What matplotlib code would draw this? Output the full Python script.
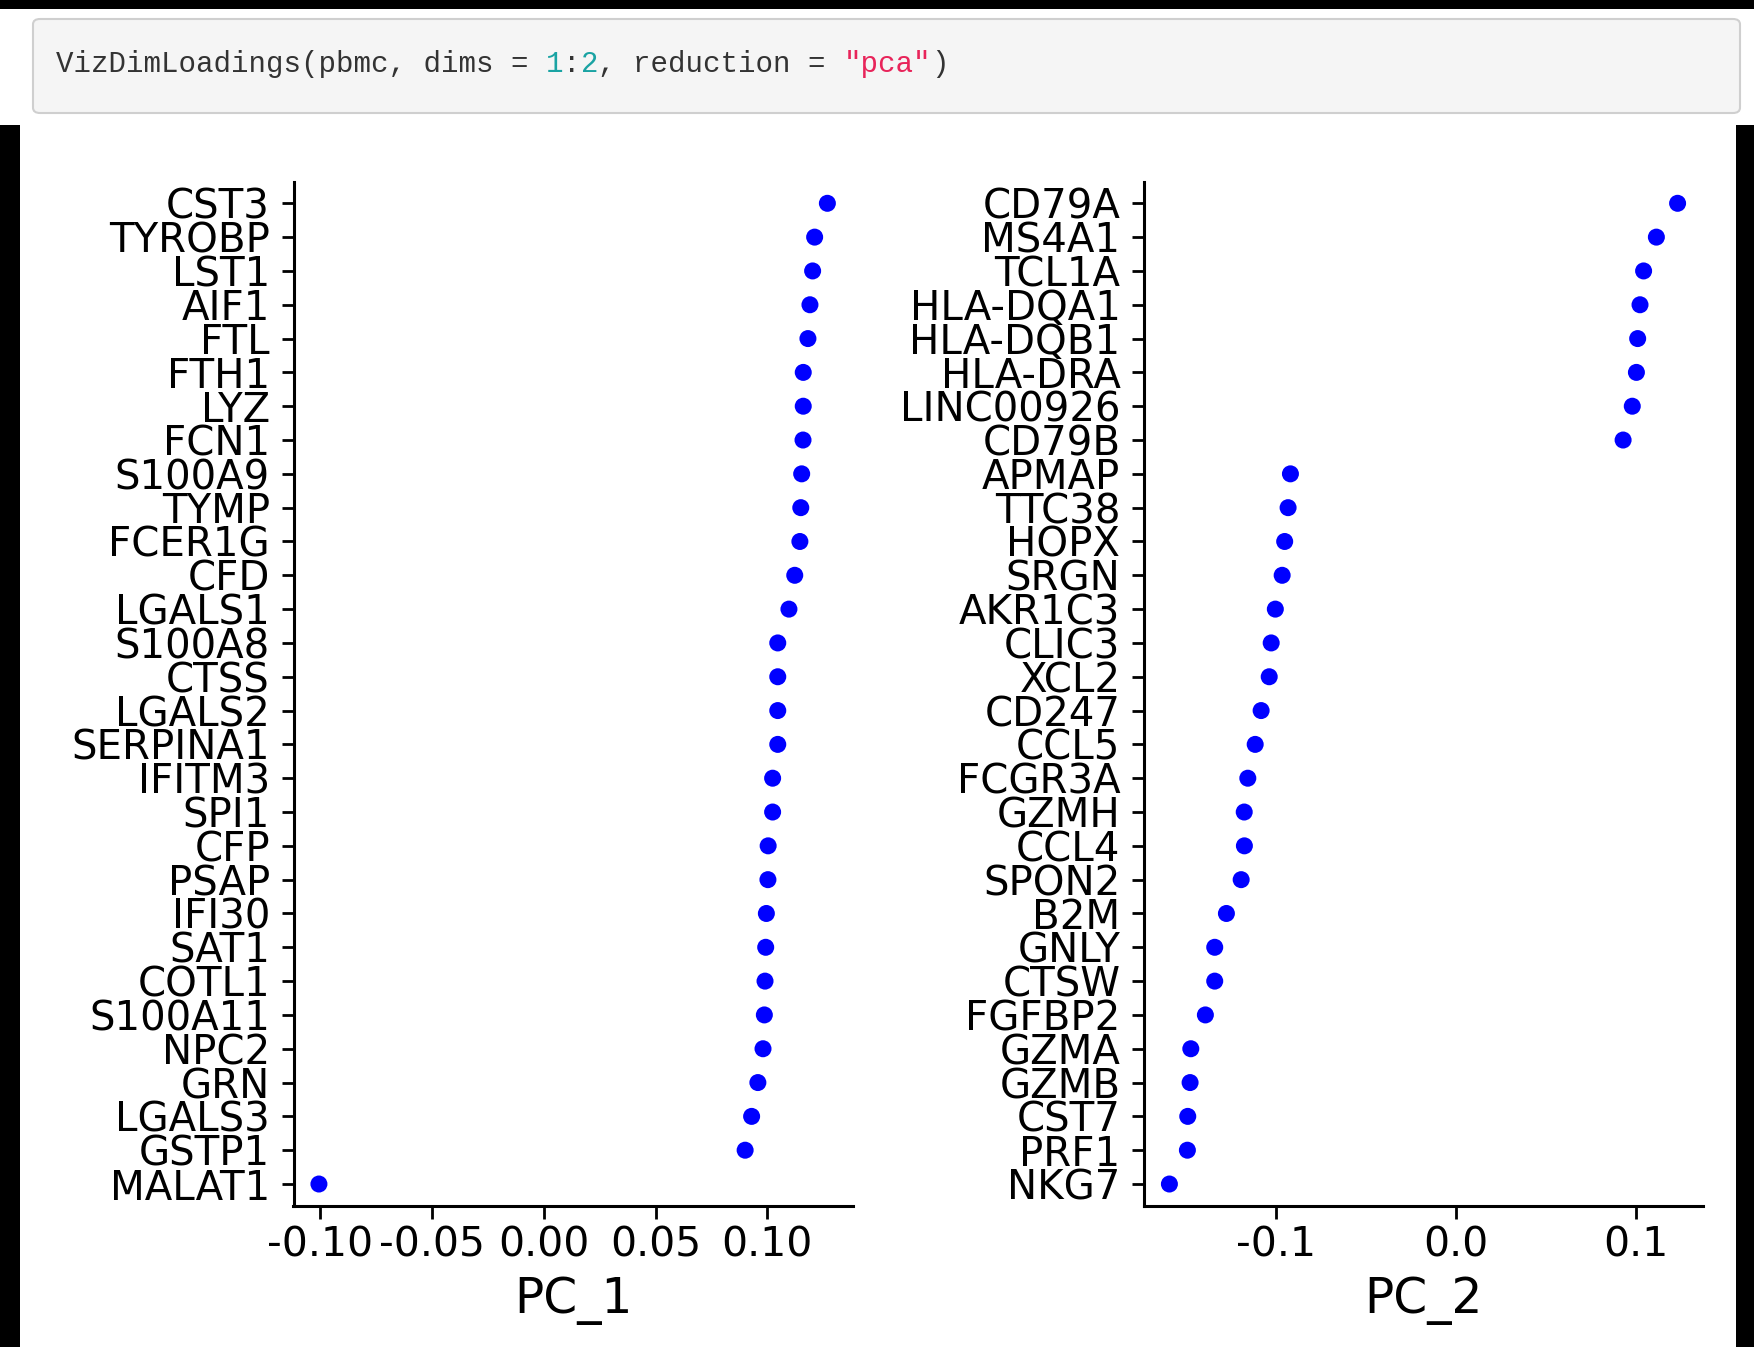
import matplotlib
matplotlib.use("Agg")
import matplotlib.pyplot as plt
from matplotlib.patches import FancyBboxPatch, Rectangle

plt.rcParams['font.family'] = ['DejaVu Sans']
plt.rcParams['axes.unicode_minus'] = False

# ---- data (top to bottom as displayed) ----
genes_pc1 = ["CST3", "TYROBP", "LST1", "AIF1", "FTL", "FTH1", "LYZ", "FCN1",
             "S100A9", "TYMP", "FCER1G", "CFD", "LGALS1", "S100A8", "CTSS",
             "LGALS2", "SERPINA1", "IFITM3", "SPI1", "CFP", "PSAP", "IFI30",
             "SAT1", "COTL1", "S100A11", "NPC2", "GRN", "LGALS3", "GSTP1", "MALAT1"]
loadings_pc1 = [0.1269, 0.1212, 0.1203, 0.1191, 0.1182, 0.1161, 0.1161, 0.1160,
                0.1154, 0.1150, 0.1146, 0.1123, 0.1097, 0.1047, 0.1047,
                0.1047, 0.1047, 0.1024, 0.1024, 0.1004, 0.1003, 0.0996,
                0.0993, 0.0990, 0.0987, 0.0981, 0.0958, 0.0930, 0.0901, -0.1006]

genes_pc2 = ["CD79A", "MS4A1", "TCL1A", "HLA-DQA1", "HLA-DQB1", "HLA-DRA",
             "LINC00926", "CD79B", "APMAP", "TTC38", "HOPX", "SRGN", "AKR1C3",
             "CLIC3", "XCL2", "CD247", "CCL5", "FCGR3A", "GZMH", "CCL4", "SPON2",
             "B2M", "GNLY", "CTSW", "FGFBP2", "GZMA", "GZMB", "CST7", "PRF1", "NKG7"]
loadings_pc2 = [0.1234, 0.1116, 0.1045, 0.1025, 0.1012, 0.1005,
                0.0982, 0.0931, -0.0919, -0.0932, -0.0951, -0.0965, -0.1003,
                -0.1026, -0.1037, -0.1082, -0.1115, -0.1156, -0.1176, -0.1175, -0.1193,
                -0.1275, -0.1340, -0.1340, -0.1392, -0.1473, -0.1477, -0.1490, -0.1492, -0.1592]

xticks_pc1 = [-0.10, -0.05, 0.00, 0.05, 0.10]
xtick_labels_pc1 = ["-0.10", "-0.05", "0.00", "0.05", "0.10"]
xticks_pc2 = [-0.1, 0.0, 0.1]
xtick_labels_pc2 = ["-0.1", "0.0", "0.1"]
xlabels = ["PC_1", "PC_2"]

code_segments = [("VizDimLoadings(pbmc, dims = ", "#333333"), ("1", "#1aa3a3"),
                 (":", "#333333"), ("2", "#1aa3a3"), (", reduction = ", "#333333"),
                 ('"pca"', "#e8245a"), (")", "#333333")]

W, H = 1754, 1347
DPI = 100
fig = plt.figure(figsize=(W / DPI, H / DPI), dpi=DPI)
fig.patch.set_facecolor("white")

def fx(px):
    return px / W

def fy(py):
    return 1 - py / H

# ---- notebook chrome ----
fig.add_artist(Rectangle((0, fy(9)), 1, 9 / H, transform=fig.transFigure,
                         facecolor="black", edgecolor="none", zorder=0))
fig.add_artist(Rectangle((0, 0), fx(20), fy(125), transform=fig.transFigure,
                         facecolor="black", edgecolor="none", zorder=0))
fig.add_artist(Rectangle((fx(1736), 0), fx(18), fy(125), transform=fig.transFigure,
                         facecolor="black", edgecolor="none", zorder=0))
box = FancyBboxPatch((fx(33), fy(113)), fx(1740 - 33), (113 - 19) / H,
                     boxstyle="round,pad=0,rounding_size=0.004",
                     transform=fig.transFigure, facecolor="#f5f5f5",
                     edgecolor="#cfcfcf", linewidth=1.5, zorder=1)
fig.add_artist(box)

code_fs = 21
char_w = 0.6 * code_fs * DPI / 72.0
x0 = 56
n = 0
for seg, col in code_segments:
    fig.text(fx(x0 + n * char_w), fy(64), seg, family="Liberation Mono",
             fontsize=code_fs, color=col, va="center", ha="left", zorder=2)
    n += len(seg)

# ---- panels ----
ax_bottom = fy(1206)
ax_height = (1206 - 182) / H
axes = [fig.add_axes([fx(293.5), ax_bottom, fx(852.8 - 293.5), ax_height]),
        fig.add_axes([fx(1144), ax_bottom, fx(1703 - 1144), ax_height])]

panels = [(genes_pc1, loadings_pc1, xticks_pc1, xtick_labels_pc1),
          (genes_pc2, loadings_pc2, xticks_pc2, xtick_labels_pc2)]

for ax, (genes, vals, xt, xtl), xl in zip(axes, panels, xlabels):
    ax.scatter(vals[::-1], genes[::-1], s=150, color="#0000ff", edgecolors="none",
               zorder=3)
    ax.set_ylim(-0.65, len(genes) - 1 + 0.63)
    ax.set_xticks(xt)
    ax.set_xticklabels(xtl)
    ax.spines["top"].set_visible(False)
    ax.spines["right"].set_visible(False)
    for s in ("left", "bottom"):
        ax.spines[s].set_linewidth(2.2)
    ax.tick_params(axis="x", length=9, width=2.0, labelsize=29.5, pad=5,
                   color="black", labelcolor="black")
    ax.tick_params(axis="y", length=9, width=2.0, labelsize=29, pad=8,
                   color="black", labelcolor="black")
    ax.set_xlabel(xl, fontsize=35, labelpad=8)
    ax.set_facecolor("white")

fig.savefig("out.png", dpi=DPI, facecolor="white")
